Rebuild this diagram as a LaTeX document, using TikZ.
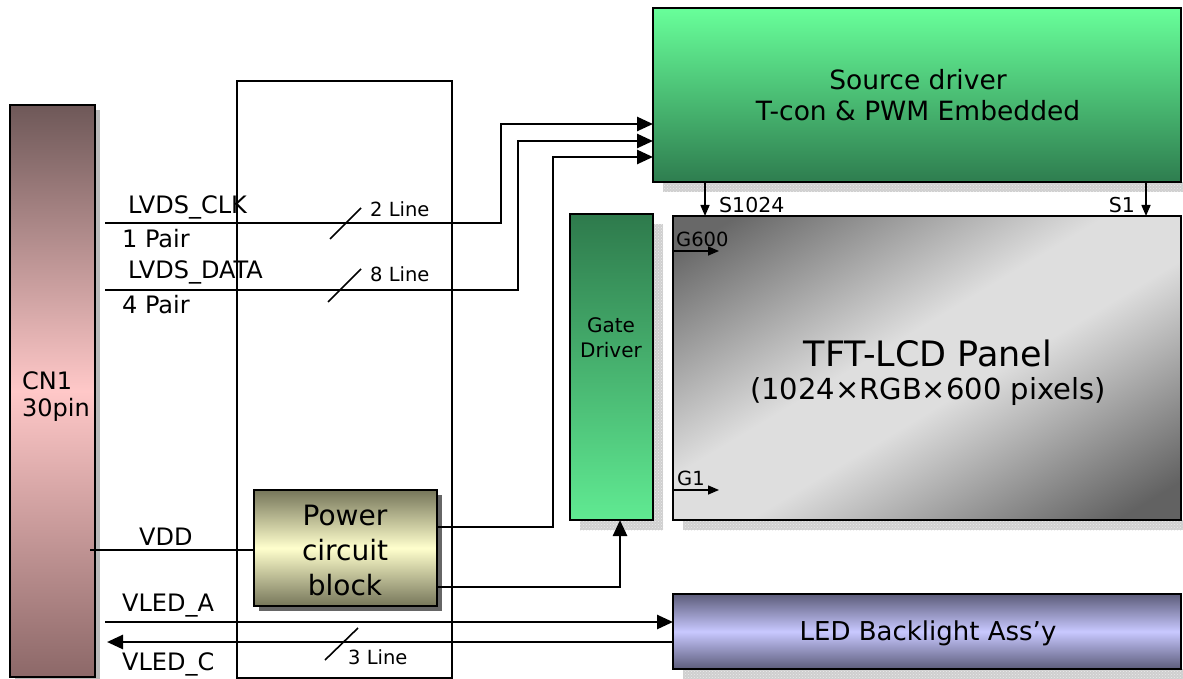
\documentclass[tikz,border=0pt]{standalone}
\usepackage{fontspec}
\setmainfont{DejaVu Sans}
\usetikzlibrary{arrows.meta,patterns,calc}
\definecolor{pdark}{RGB}{104,104,104}
\definecolor{plight}{RGB}{222,222,222}
\definecolor{pdark2}{RGB}{98,98,98}
\pgfdeclareverticalshading{panelsh}{100bp}{color(0bp)=(pdark2); color(20bp)=(pdark2); color(45bp)=(plight); color(55bp)=(plight); color(80bp)=(pdark); color(100bp)=(pdark)}
\begin{document}
\begin{tikzpicture}[x=1pt,y=-1pt,
  box/.style={draw=black, line width=1.3pt, inner sep=0pt, outer sep=0pt, anchor=north west},
  shadowfill/.style={fill=gray!38, postaction={pattern=crosshatch dots, pattern color=white!85!gray}},
  wire/.style={line width=2.6pt, line join=miter},
  bigarrow/.style={-{Triangle[length=16pt,width=14pt]}},
  smallarrow/.style={line width=1.5pt, -{Triangle[length=11pt,width=9pt]}},
  lbl/.style={font=\fontsize{24}{28}\selectfont, inner sep=0pt},
  linelbl/.style={font=\fontsize{19.5}{22}\selectfont, inner sep=0pt},
  slash/.style={line width=1.6pt}
]
\useasboundingbox (0,0) rectangle (1183,679);

% shadows
\fill[gray!55] (15,110) rectangle (100,682);
\fill[shadowfill] (663,182) rectangle (1183,192);
\fill[shadowfill] (653,224) rectangle (663,530);
\fill[shadowfill] (580,520) rectangle (663,530);
\fill[shadowfill] (683,520) rectangle (1183,530);
\fill[shadowfill] (683,669) rectangle (1183,679);
\fill[gray!80!black] (259,495) rectangle (442,611);

% tall frame
\node[box, line width=1.6pt, minimum width=215pt, minimum height=597pt] (frame) at (237,81) {};

% blocks
\node[box, minimum width=85pt, minimum height=572pt, top color={rgb,255:red,110;green,88;blue,88}, bottom color={rgb,255:red,140;green,104;blue,104}, middle color={rgb,255:red,255;green,200;blue,200}] (cn1) at (10,105) {};
\node[font=\fontsize{24}{27}\selectfont, align=left, anchor=west, inner sep=0pt] (cn1t) at (22,397) {CN1\\30pin};

\node[box, minimum width=528pt, minimum height=174pt, top color={rgb,255:red,104;green,255;blue,154}, bottom color={rgb,255:red,46;green,125;blue,79}] (src) at (653,8) {};
\node[font=\fontsize{26.5}{31}\selectfont, align=center, inner sep=0pt] (srct) at (918,95) {Source driver\\T-con \& PWM Embedded};

\node[box, minimum width=83pt, minimum height=306pt, top color={rgb,255:red,46;green,122;blue,76}, bottom color={rgb,255:red,96;green,234;blue,146}] (gate) at (570,214) {};
\node[font=\fontsize{20}{25}\selectfont, align=center, inner sep=0pt] (gatet) at (611,338) {Gate\\Driver};

\node[box, minimum width=508pt, minimum height=304pt, shading=panelsh, shading angle=31] (panel) at (673,216) {};
\node[font=\fontsize{35}{38}\selectfont, inner sep=0pt] (panelt1) at (928,353) {TFT-LCD Panel};
\node[font=\fontsize{29}{34}\selectfont, inner sep=0pt] (panelt2) at (928,391) {(1024×RGB×600 pixels)};

\node[box, minimum width=183pt, minimum height=116pt, top color={rgb,255:red,118;green,118;blue,90}, bottom color={rgb,255:red,118;green,118;blue,90}, middle color={rgb,255:red,255;green,255;blue,205}] (pwr) at (254,490) {};
\node[font=\fontsize{28}{35}\selectfont, align=center, inner sep=0pt] (pwrt) at (345,550) {Power\\circuit\\block};

\node[box, minimum width=508pt, minimum height=75pt, top color={rgb,255:red,92;green,92;blue,122}, bottom color={rgb,255:red,92;green,92;blue,122}, middle color={rgb,255:red,200;green,200;blue,255}] (led) at (673,594) {};
\node[font=\fontsize{26}{30}\selectfont, inner sep=0pt] (ledt) at (928,633) {LED Backlight Ass’y};

% coordinates
\coordinate (clkS) at (105,223);
\coordinate (dataS) at (105,290);
\coordinate (y1) at (0,124);
\coordinate (y2) at (0,141);
\coordinate (y3) at (0,157);
\coordinate (yp1) at (0,527);
\coordinate (yp2) at (0,587);
\coordinate (vddS) at (90,550);
\coordinate (vaS) at (105,622);
\coordinate (vcE) at (107,642);
\coordinate (ya) at (0,622);
\coordinate (yc) at (0,642);
\coordinate (sx1) at (705,0);
\coordinate (sx2) at (1146,0);
\coordinate (g600) at (0,251);
\coordinate (g1) at (0,490);

% connectors
\draw[wire, bigarrow] (clkS) -| (501,124) -- (src.west |- y1);
\draw[wire, bigarrow] (dataS) -| (518,141) -- (src.west |- y2);
\draw[wire, bigarrow] (pwr.east |- yp1) -| (553,157) -- (src.west |- y3);
\draw[wire, bigarrow] (pwr.east |- yp2) -| ([xshift=8.5pt]gate.south);
\draw[wire] (vddS) -- (pwr.west |- vddS);
\draw[wire, bigarrow] (vaS) -- (led.west |- ya);
\draw[wire, bigarrow] (led.west |- yc) -- (vcE);

\draw[smallarrow] (src.south -| sx1) -- (panel.north -| sx1);
\draw[smallarrow] (src.south -| sx2) -- (panel.north -| sx2);
\draw[smallarrow] (panel.west |- g600) -- ++(46,0);
\draw[smallarrow] (panel.west |- g1) -- ++(46,0);

% slashes
\draw[slash] (330,239) -- (361,208);
\draw[slash] (328,302) -- (361,269);
\draw[slash] (325,660) -- (358,628);

% labels
\node[lbl, anchor=west] (l1) at (128,207) {LVDS\_CLK};
\node[lbl, anchor=west] (l2) at (122,239) {1 Pair};
\node[lbl, anchor=west] (l3) at (128,272) {LVDS\_DATA};
\node[lbl, anchor=west] (l4) at (122,305) {4 Pair};
\node[lbl, anchor=west] (l5) at (139,537) {VDD};
\node[lbl, anchor=west] (l6) at (122,606) {VLED\_A};
\node[lbl, anchor=west] (l7) at (122,664) {VLED\_C};
\node[linelbl, anchor=west] (n1) at (370,209) {2 Line};
\node[linelbl, anchor=west] (n2) at (370,274) {8 Line};
\node[linelbl, anchor=west] (n3) at (348,657) {3 Line};
\node[linelbl, font=\fontsize{20.5}{24}\selectfont, anchor=west] (s1024) at (719,205) {S1024};
\node[linelbl, font=\fontsize{20.5}{24}\selectfont, anchor=east] (s1) at (1135,205) {S1};
\node[linelbl, anchor=west] (g600t) at (676,239) {G600};
\node[linelbl, anchor=west] (g1t) at (677,478) {G1};
\end{tikzpicture}
\end{document}
